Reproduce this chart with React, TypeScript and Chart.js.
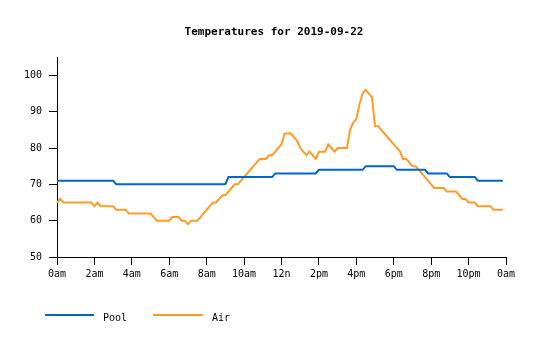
import React, { useEffect, useRef } from 'react';
import { Chart, registerables } from 'chart.js';

Chart.register(...registerables);

const TITLE = 'Temperatures for 2019-09-22';
const SERIES_NAMES = ['Pool', 'Air'];
const SERIES_COLORS = ['#0066cc', '#ff9c26'];
const X_TICK_LABELS = ['0am', '2am', '4am', '6am', '8am', '10am', '12n', '2pm', '4pm', '6pm', '8pm', '10pm', '0am'];
const Y_MIN = 50;
const Y_MAX = 105;
const Y_STEP = 10;
const SAMPLE_MINUTES = 10;

// one value every 10 minutes, 6 per hour
const POOL = [
  71, 71, 71, 71, 71, 71,
  71, 71, 71, 71, 71, 71,
  71, 71, 71, 71, 71, 71,
  71, 70, 70, 70, 70, 70,
  70, 70, 70, 70, 70, 70,
  70, 70, 70, 70, 70, 70,
  70, 70, 70, 70, 70, 70,
  70, 70, 70, 70, 70, 70,
  70, 70, 70, 70, 70, 70,
  70, 72, 72, 72, 72, 72,
  72, 72, 72, 72, 72, 72,
  72, 72, 72, 72, 73, 73,
  73, 73, 73, 73, 73, 73,
  73, 73, 73, 73, 73, 73,
  74, 74, 74, 74, 74, 74,
  74, 74, 74, 74, 74, 74,
  74, 74, 74, 75, 75, 75,
  75, 75, 75, 75, 75, 75,
  75, 74, 74, 74, 74, 74,
  74, 74, 74, 74, 74, 73,
  73, 73, 73, 73, 73, 73,
  72, 72, 72, 72, 72, 72,
  72, 72, 72, 71, 71, 71,
  71, 71, 71, 71, 71, 71,
];

const AIR = [
  65, 66, 65, 65, 65, 65,
  65, 65, 65, 65, 65, 65,
  64, 65, 64, 64, 64, 64,
  64, 63, 63, 63, 63, 62,
  62, 62, 62, 62, 62, 62,
  62, 61, 60, 60, 60, 60,
  60, 61, 61, 61, 60, 60,
  59, 60, 60, 60, 61, 62,
  63, 64, 65, 65, 66, 67,
  67, 68, 69, 70, 70, 71,
  72, 73, 74, 75, 76, 77,
  77, 77, 78, 78, 79, 80,
  81, 84, 84, 84, 83, 82,
  80, 79, 78, 79, 78, 77,
  79, 79, 79, 81, 80, 79,
  80, 80, 80, 80, 85, 87,
  88, 92, 95, 96, 95, 94,
  86, 86, 85, 84, 83, 82,
  81, 80, 79, 77, 77, 76,
  75, 75, 74, 73, 72, 71,
  70, 69, 69, 69, 69, 68,
  68, 68, 68, 67, 66, 66,
  65, 65, 65, 64, 64, 64,
  64, 64, 63, 63, 63, 63,
];

const MONO = "'DejaVu Sans Mono', monospace";

const toPoints = (values: number[]) => values.map((v, i) => ({ x: i * SAMPLE_MINUTES, y: v }));

const legendPlugin = {
  id: 'customLegend',
  afterDraw(chart: any) {
    const ctx = chart.ctx as CanvasRenderingContext2D;
    const items = [
      { lineX: 45, lineW: 49, textX: 103 },
      { lineX: 153, lineW: 50, textX: 212 },
    ];
    ctx.save();
    ctx.font = `10px ${MONO}`;
    ctx.textBaseline = 'alphabetic';
    ctx.textAlign = 'left';
    chart.data.datasets.forEach((ds: any, i: number) => {
      const it = items[i];
      ctx.strokeStyle = ds.borderColor;
      ctx.lineWidth = 2;
      ctx.beginPath();
      ctx.moveTo(it.lineX, 315);
      ctx.lineTo(it.lineX + it.lineW, 315);
      ctx.stroke();
      ctx.fillStyle = '#000';
      ctx.fillText(ds.label, it.textX, 321);
    });
    ctx.restore();
  },
};

export default function App() {
  const ref = useRef<HTMLCanvasElement | null>(null);

  useEffect(() => {
    document.body.style.margin = '0';
    const canvas = ref.current;
    if (!canvas) return;
    const tickFont = { family: MONO, size: 10 };
    const chart = new Chart(canvas, {
      type: 'line',
      data: {
        datasets: [
          {
            label: SERIES_NAMES[0],
            data: toPoints(POOL),
            borderColor: SERIES_COLORS[0],
            backgroundColor: SERIES_COLORS[0],
            borderWidth: 2,
            pointRadius: 0,
            tension: 0,
            fill: false,
          },
          {
            label: SERIES_NAMES[1],
            data: toPoints(AIR),
            borderColor: SERIES_COLORS[1],
            backgroundColor: SERIES_COLORS[1],
            borderWidth: 2,
            pointRadius: 0,
            tension: 0,
            fill: false,
          },
        ],
      },
      options: {
        responsive: false,
        animation: false,
        events: [],
        layout: { padding: { left: 8, right: 0, top: 0, bottom: 53 } },
        plugins: {
          legend: { display: false },
          tooltip: { enabled: false },
          title: {
            display: true,
            text: TITLE,
            color: '#000',
            font: { family: MONO, size: 11, weight: 'bold' },
            padding: { top: 26, bottom: 18 },
          },
        },
        scales: {
          x: {
            type: 'linear',
            min: 0,
            max: 24 * 60,
            grid: { drawOnChartArea: false, color: '#000', tickLength: 8 },
            border: { display: true, color: '#000' },
            ticks: {
              stepSize: 120,
              autoSkip: false,
              maxRotation: 0,
              color: '#000',
              font: tickFont,
              padding: 3,
              callback: (v: any) => X_TICK_LABELS[Math.round(Number(v) / 120)] ?? '',
            },
            afterFit: (s: any) => {
              s.height = 30;
            },
          },
          y: {
            type: 'linear',
            min: Y_MIN,
            max: Y_MAX,
            grid: { drawOnChartArea: false, color: '#000', tickLength: 8 },
            border: { display: true, color: '#000' },
            ticks: {
              stepSize: Y_STEP,
              includeBounds: false,
              color: '#000',
              font: tickFont,
              padding: 7,
            },
            afterFit: (s: any) => {
              s.width = 49;
            },
          },
          yRight: {
            type: 'linear',
            position: 'right',
            display: true,
            grid: { display: false, drawTicks: false },
            border: { display: false },
            ticks: { display: false },
            afterFit: (s: any) => {
              s.width = 34;
            },
          },
        },
      },
      plugins: [legendPlugin],
    } as any);
    return () => chart.destroy();
  }, []);

  return (
    <div style={{ width: 540, height: 340, background: '#fff' }}>
      <canvas ref={ref} width={540} height={340} style={{ display: 'block' }} />
    </div>
  );
}
